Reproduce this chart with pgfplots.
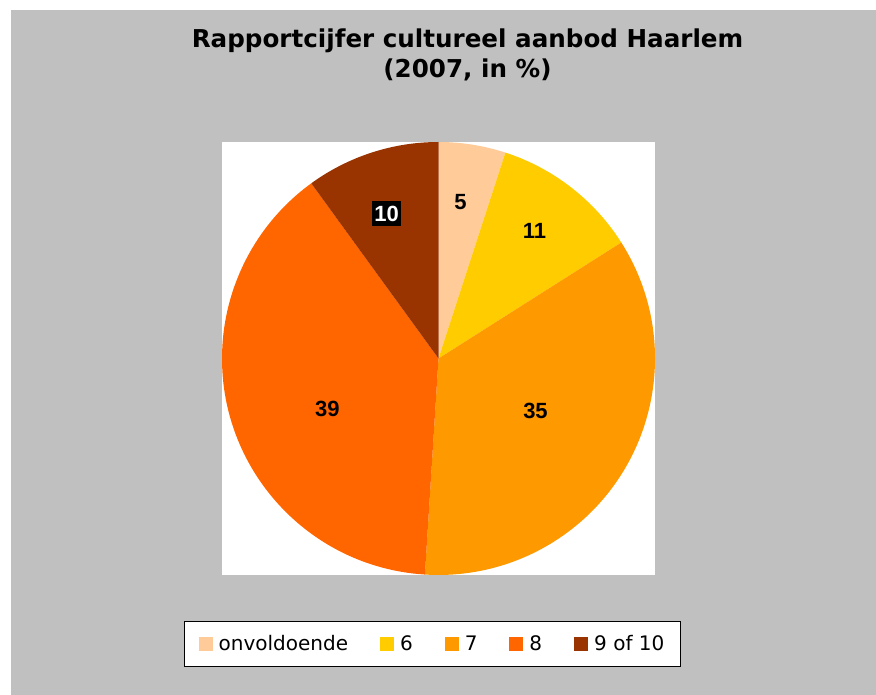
\documentclass[border=0pt]{standalone}
\usepackage{pgfplots}
\pgfplotsset{compat=1.18}
\usepackage{pgfplotstable}
\usepackage{fontspec}
\setmainfont{DejaVu Sans}
\newfontfamily\lblfont{Liberation Sans}
\definecolor{bg}{HTML}{C0C0C0}
\definecolor{cA}{HTML}{FFCC99}
\definecolor{cB}{HTML}{FFCC00}
\definecolor{cC}{HTML}{FF9900}
\definecolor{cD}{HTML}{FF6600}
\definecolor{cE}{HTML}{993300}

\pgfplotstableread{
label value
onvoldoende 5
6 11
7 35
8 39
9of10 10
}\piedata

\pgfplotstablegetelem{0}{value}\of\piedata \let\vA\pgfplotsretval
\pgfplotstablegetelem{1}{value}\of\piedata \let\vB\pgfplotsretval
\pgfplotstablegetelem{2}{value}\of\piedata \let\vC\pgfplotsretval
\pgfplotstablegetelem{3}{value}\of\piedata \let\vD\pgfplotsretval
\pgfplotstablegetelem{4}{value}\of\piedata \let\vE\pgfplotsretval
\pgfmathsetmacro\tot{\vA+\vB+\vC+\vD+\vE}
\pgfmathsetmacro\aA{90}
\pgfmathsetmacro\aB{\aA-360*\vA/\tot}
\pgfmathsetmacro\aC{\aB-360*\vB/\tot}
\pgfmathsetmacro\aD{\aC-360*\vC/\tot}
\pgfmathsetmacro\aE{\aD-360*\vD/\tot}
\pgfmathsetmacro\aF{\aE-360*\vE/\tot}

\begin{document}
\begin{tikzpicture}[x=1pt,y=1pt]
\fill[white] (0,0) rectangle (876,695);
\fill[bg] (11,0) rectangle (876,685);
\fill[white] (222,120) rectangle (655,553);
\node[anchor=base,font=\fontsize{24.6}{29}\selectfont\bfseries] at (467.5,647) {Rapportcijfer cultureel aanbod Haarlem};
\node[anchor=base,font=\fontsize{24.6}{29}\selectfont\bfseries] at (467.5,617) {(2007, in \%)};
\begin{axis}[
  at={(222pt,120pt)}, anchor=south west,
  scale only axis, width=433pt, height=433pt,
  xmin=-1, xmax=1, ymin=-1, ymax=1,
  hide axis, clip=false,
  legend columns=5,
  legend image code/.code={\fill[#1,draw=none] (0pt,-7pt) rectangle (14pt,7pt); \path[draw=none,fill=none] (0pt,0pt) rectangle (18pt,0.1pt);},
  legend style={at={(rel axis cs:0.4861,-0.1594)}, anchor=center,
    draw=black, fill=white, font=\fontsize{20}{24}\selectfont,
    inner xsep=14pt, inner ysep=12pt,
    /tikz/every even column/.append style={column sep=30pt},
    cells={anchor=west}},
]
\addlegendimage{fill=cA,draw=none}\addlegendentry{onvoldoende}
\addlegendimage{fill=cB,draw=none}\addlegendentry{6}
\addlegendimage{fill=cC,draw=none}\addlegendentry{7}
\addlegendimage{fill=cD,draw=none}\addlegendentry{8}
\addlegendimage{fill=cE,draw=none}\addlegendentry{9 of 10}
\fill[cA] (axis cs:0,0) -- (axis cs:{cos(\aA)},{sin(\aA)}) arc[start angle=\aA, end angle=\aB, radius=216.5pt] -- cycle;
\fill[cB] (axis cs:0,0) -- (axis cs:{cos(\aB)},{sin(\aB)}) arc[start angle=\aB, end angle=\aC, radius=216.5pt] -- cycle;
\fill[cC] (axis cs:0,0) -- (axis cs:{cos(\aC)},{sin(\aC)}) arc[start angle=\aC, end angle=\aD, radius=216.5pt] -- cycle;
\fill[cD] (axis cs:0,0) -- (axis cs:{cos(\aD)},{sin(\aD)}) arc[start angle=\aD, end angle=\aE, radius=216.5pt] -- cycle;
\fill[cE] (axis cs:0,0) -- (axis cs:{cos(\aE)},{sin(\aE)}) arc[start angle=\aE, end angle=\aF, radius=216.5pt] -- cycle;
\begin{scope}[every node/.style={font=\lblfont\fontsize{22}{25}\selectfont\bfseries}]
\node at (axis cs:0.102,0.721) {\vA};
\node at (axis cs:0.443,0.591) {\vB};
\node at (axis cs:0.448,-0.240) {\vC};
\node at (axis cs:-0.513,-0.231) {\vD};
\node[fill=black, text=white, inner xsep=2pt, inner ysep=5pt] at (axis cs:-0.240,0.670) {\vE};
\end{scope}
\end{axis}
\end{tikzpicture}
\end{document}
